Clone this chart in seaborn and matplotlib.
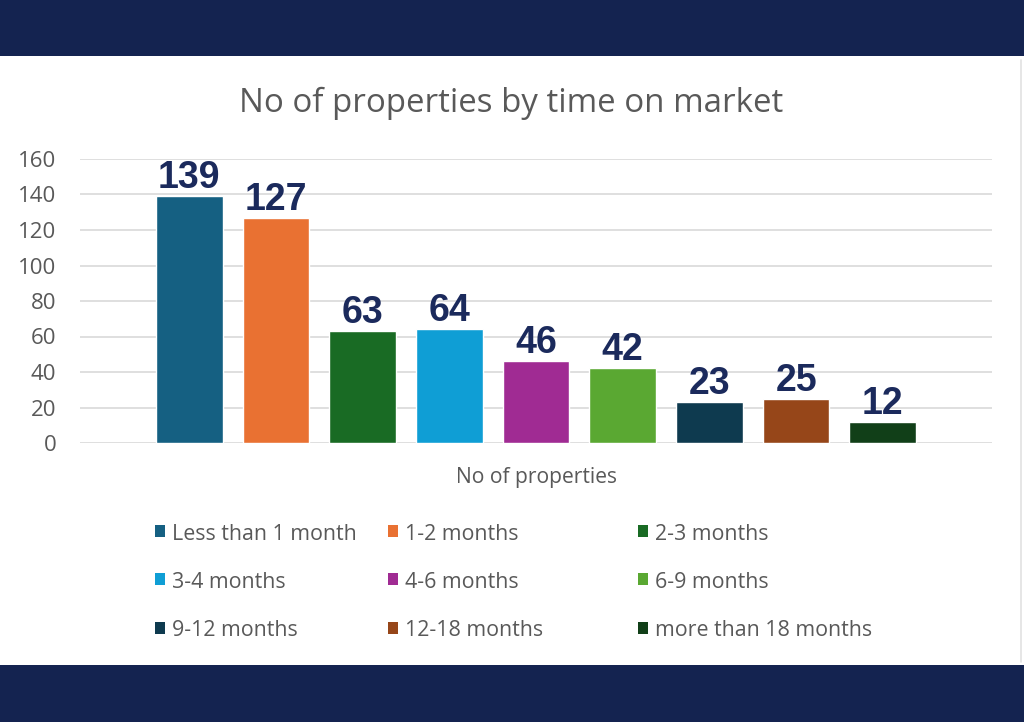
import matplotlib

matplotlib.use("Agg")
import matplotlib.pyplot as plt
import pandas as pd
import seaborn as sns
from matplotlib.lines import Line2D
from matplotlib.patches import Rectangle

categories = [
    "Less than 1 month",
    "1-2 months",
    "2-3 months",
    "3-4 months",
    "4-6 months",
    "6-9 months",
    "9-12 months",
    "12-18 months",
    "more than 18 months",
]
counts = [139, 127, 63, 64, 46, 42, 23, 25, 12]
bar_colors = [
    "#156082",
    "#E97132",
    "#196B24",
    "#0F9ED5",
    "#A02B93",
    "#5AA832",
    "#0E3A4F",
    "#964619",
    "#113F18",
]
y_ticks = [0, 20, 40, 60, 80, 100, 120, 140, 160]

NAVY = "#142350"
LABEL_NAVY = "#1B2A5C"
GREY_TEXT = "#595959"
FONT = "Open Sans"
BOLD_FONT = "Liberation Sans"

W, H = 1024, 722


def fx(px: float) -> float:
    return px / W


def fy(py: float) -> float:
    return 1 - py / H


df = pd.DataFrame({"period": categories, "count": counts})

sns.set_theme(style="white")
plt.rcParams["font.family"] = [FONT, "DejaVu Sans"]

fig = plt.figure(figsize=(W / 100, H / 100), dpi=100)
fig.patch.set_facecolor(NAVY)

# white card between the navy bands, with a faint right border
fig.patches.append(
    Rectangle((0, fy(665)), 1, fy(56) - fy(665), transform=fig.transFigure,
              facecolor="white", edgecolor="none", zorder=-1)
)
fig.lines.append(
    Line2D([fx(1021), fx(1021)], [fy(60), fy(662)], transform=fig.transFigure,
           color="#E2E2E2", linewidth=1.2)
)

ax = fig.add_axes([fx(80), fy(443), fx(992) - fx(80), fy(159) - fy(443)])
ax.set_facecolor("none")

sns.barplot(
    data=df,
    x="period",
    y="count",
    hue="period",
    palette=dict(zip(categories, bar_colors)),
    order=categories,
    hue_order=categories,
    dodge=False,
    width=0.77,
    legend=False,
    saturation=1,
    ax=ax,
)

for container in ax.containers:
    ax.bar_label(container, padding=0, fontsize=27, fontweight="bold",
                 color=LABEL_NAVY, family=BOLD_FONT)

ax.set_xlim(-1.26, 9.26)
ax.set_ylim(0, 160)
ax.set_yticks(y_ticks)
ax.set_xticks([])
ax.set_xlabel("")
ax.set_ylabel("")
ax.yaxis.grid(True, color="#D9D9D9", linewidth=1.2)
ax.set_axisbelow(True)
for spine in ax.spines.values():
    spine.set_visible(False)
ax.tick_params(axis="y", length=0, pad=17, labelsize=16, labelcolor=GREY_TEXT)

fig.text(fx(511), fy(103), "No of properties by time on market", ha="center",
         va="center", fontsize=23.8, color=GREY_TEXT)
fig.text(fx(536), fy(477), "No of properties", ha="center", va="center",
         fontsize=15.2, color=GREY_TEXT)

# legend laid out row by row, three columns
col_x = [155, 388, 638]
row_y = [531, 579, 628]
for i, (label, color) in enumerate(zip(categories, bar_colors)):
    x0 = col_x[i % 3]
    y0 = row_y[i // 3]
    fig.patches.append(
        Rectangle((fx(x0), fy(y0 + 6)), fx(10), fy(0) - fy(12),
                  transform=fig.transFigure, facecolor=color, edgecolor="none")
    )
    fig.text(fx(x0 + 17), fy(y0 + 3), label, ha="left", va="center",
             fontsize=15.4, color=GREY_TEXT)

fig.savefig("out.png", dpi=100, facecolor=fig.get_facecolor())
